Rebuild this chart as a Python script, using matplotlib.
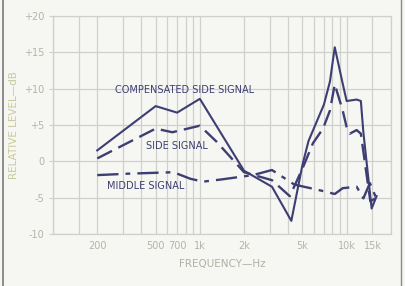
import matplotlib
matplotlib.use('Agg')
import matplotlib.pyplot as plt
from matplotlib.lines import Line2D

# curve data
comp_freq = [200, 500, 700, 1000, 2000, 3100, 4200, 5000, 5500, 7000, 7700, 8300,
             9400, 10000, 11700, 12500, 13000, 14800, 16000]
comp_db = [1.5, 7.6, 6.7, 8.6, -1.3, -3.5, -8.2, -0.5, 2.8, 7.8, 11.0, 15.7,
           10.7, 8.3, 8.5, 8.3, 4.0, -6.5, -4.8]

side_freq = [200, 500, 650, 1000, 1300, 2000, 3100, 4100, 5000, 5900, 6900, 7700,
             8300, 9400, 10000, 10500, 11700, 12500, 14500, 16000]
side_db = [0.4, 4.5, 4.0, 4.9, 2.7, -1.5, -2.6, -4.8, -1.0, 2.5, 4.5, 7.0,
           10.6, 7.0, 4.7, 3.8, 4.3, 3.8, -5.5, -5.0]

mid_freq = [200, 330, 660, 860, 1050, 1400, 2300, 3100, 4400, 6600, 8300, 9400,
            11700, 13000, 14400, 16000]
mid_db = [-1.9, -1.7, -1.5, -2.4, -2.8, -2.5, -1.9, -1.2, -3.2, -4.0, -4.5, -3.7,
          -3.5, -5.1, -3.0, -5.2]

xtick_vals = [200, 500, 700, 1000, 2000, 5000, 10000, 15000]
xtick_text = ['200', '500', '700', '1k', '2k', '5k', '10k', '15k']
ytick_vals = [20, 15, 10, 5, 0, -5, -10]
ytick_text = ['+20', '+15', '+10', '+5', '0', '-5', '-10']
grid_freqs = [100, 150, 200, 300, 400, 500, 600, 700, 800, 900,
              1000, 2000, 3000, 4000, 5000, 6000, 7000, 8000, 9000, 10000, 15000, 20000]

bg = '#f6f6f3'
ink = '#3d3f72'
gridc = '#cfcfcc'
tickc = '#b4b4aa'

fig = plt.figure(figsize=(4.05, 2.86), dpi=100, facecolor=bg)
ax = fig.add_axes([0.131, 0.182, 0.834, 0.762], facecolor=bg)

ax.set_xscale('log')
ax.set_xlim(100, 20000)
ax.set_ylim(-10, 20)

for f in grid_freqs:
    ax.axvline(f, color=gridc, lw=0.9, zorder=1)
for v in ytick_vals:
    ax.axhline(v, color=gridc, lw=0.9, zorder=1)

ax.plot(comp_freq, comp_db, color=ink, lw=1.5, zorder=3)
ax.plot(side_freq, side_db, color=ink, lw=1.7, dashes=(7, 3), zorder=3)
ax.plot(mid_freq, mid_db, color=ink, lw=1.7, dashes=(9, 3, 2, 3), zorder=3)

ax.text(790, 9.8, 'COMPENSATED SIDE SIGNAL', color=ink, fontsize=7,
        ha='center', va='center')
ax.text(700, 2.1, 'SIDE SIGNAL', color=ink, fontsize=7, ha='center', va='center')
ax.text(430, -3.4, 'MIDDLE SIGNAL', color=ink, fontsize=7, ha='center', va='center')

ax.set_xticks(xtick_vals)
ax.set_xticklabels(xtick_text)
ax.xaxis.set_minor_locator(matplotlib.ticker.NullLocator())
ax.set_yticks(ytick_vals)
ax.set_yticklabels(ytick_text)
ax.tick_params(axis='x', length=0, pad=5, labelsize=7, labelcolor=tickc)
ax.tick_params(axis='y', length=3, color=gridc, pad=3, labelsize=7, labelcolor=tickc)

for s in ax.spines.values():
    s.set_color(gridc)
    s.set_linewidth(0.9)

ax.set_xlabel('FREQUENCY\u2014Hz', fontsize=7.5, color='#b0b0a4', labelpad=6)
ax.set_ylabel('RELATIVE LEVEL\u2014dB', fontsize=7.5, color='#c9c99a', labelpad=4)

# scan border lines
fig.add_artist(Line2D([0.007, 0.007], [0, 1], color='#7a7a7a', lw=1.2))
fig.add_artist(Line2D([0.99, 0.99], [0, 1], color='#8a8a8a', lw=1.0))

fig.savefig('out.png', dpi=100, facecolor=bg)
